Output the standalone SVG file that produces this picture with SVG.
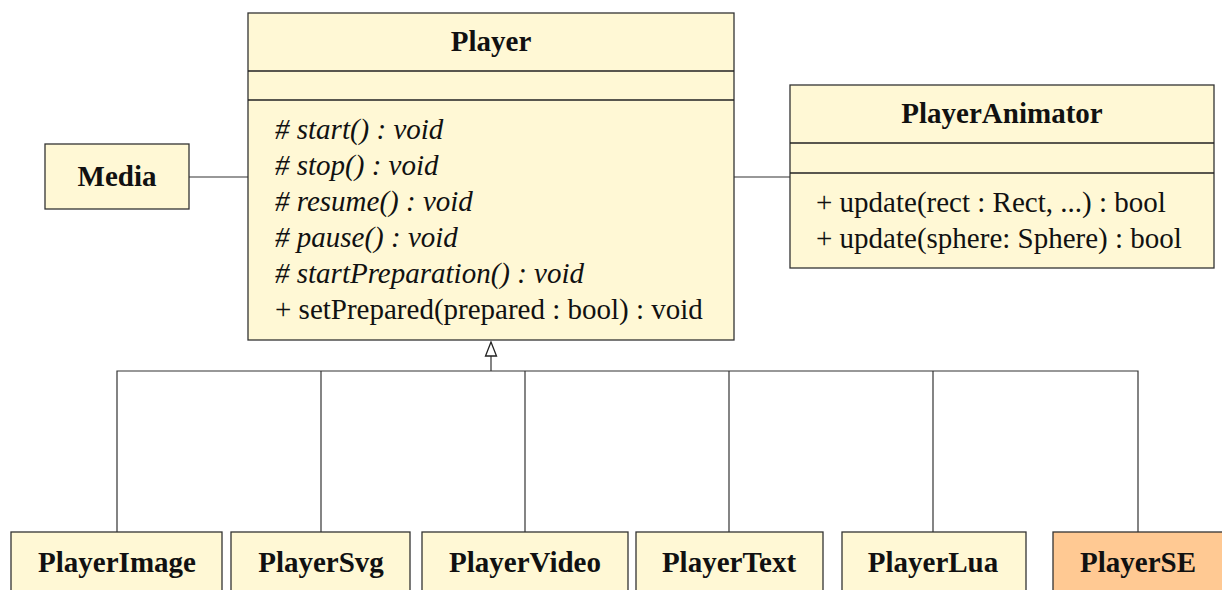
<svg xmlns="http://www.w3.org/2000/svg" width="1222" height="590" viewBox="0 0 1222 590">
<style>
.box{fill:#fff8d5;stroke:#333;stroke-width:1.3}
.se{fill:#ffc993;stroke:#333;stroke-width:1.3}
.div{stroke:#222;stroke-width:1.3}
.t{font-family:"Liberation Serif","Times New Roman",serif;font-size:29px;font-weight:bold;fill:#111;text-anchor:middle}
.m{font-family:"Liberation Serif","Times New Roman",serif;font-size:29px;fill:#111}
.i{font-style:italic}
.c{fill:none;stroke:#333;stroke-width:1.2}
</style>
<g id="connectors">
<line class="c" x1="189" y1="177" x2="248" y2="177"/>
<line class="c" x1="734" y1="177" x2="790" y2="177"/>
<polyline class="c" points="117,532 117,371 1138,371 1138,532"/>
<line class="c" x1="321" y1="371" x2="321" y2="532"/>
<line class="c" x1="525" y1="371" x2="525" y2="532"/>
<line class="c" x1="729" y1="371" x2="729" y2="532"/>
<line class="c" x1="933" y1="371" x2="933" y2="532"/>
<line class="c" x1="491" y1="371" x2="491" y2="356"/>
<polygon points="491,342 485.5,356 496.5,356" fill="#fff" stroke="#222" stroke-width="1.3"/>
</g>
<g id="Player">
<rect class="box" x="248" y="13" width="486" height="327"/>
<line class="div" x1="248" y1="71" x2="734" y2="71"/>
<line class="div" x1="248" y1="100" x2="734" y2="100"/>
<text class="t" x="491" y="51">Player</text>
<text class="m i" x="275" y="139"># start() : void</text>
<text class="m i" x="275" y="175"># stop() : void</text>
<text class="m i" x="275" y="211"># resume() : void</text>
<text class="m i" x="275" y="247"># pause() : void</text>
<text class="m i" x="275" y="283"># startPreparation() : void</text>
<text class="m" x="275" y="319">+ setPrepared(prepared : bool) : void</text>
</g>
<g id="Media">
<rect class="box" x="45" y="144" width="144" height="65"/>
<text class="t" x="117" y="186">Media</text>
</g>
<g id="PlayerAnimator">
<rect class="box" x="790" y="85" width="424" height="183"/>
<line class="div" x1="790" y1="143" x2="1214" y2="143"/>
<line class="div" x1="790" y1="173" x2="1214" y2="173"/>
<text class="t" x="1002" y="123">PlayerAnimator</text>
<text class="m" x="816" y="212">+ update(rect : Rect, ...) : bool</text>
<text class="m" x="816" y="248">+ update(sphere: Sphere) : bool</text>
</g>
<g id="PlayerImage">
<rect class="box" x="11" y="532" width="211" height="70"/>
<text class="t" x="117" y="572">PlayerImage</text>
</g>
<g id="PlayerSvg">
<rect class="box" x="231" y="532" width="179" height="70"/>
<text class="t" x="321" y="572">PlayerSvg</text>
</g>
<g id="PlayerVideo">
<rect class="box" x="422" y="532" width="206" height="70"/>
<text class="t" x="525" y="572">PlayerVideo</text>
</g>
<g id="PlayerText">
<rect class="box" x="636" y="532" width="187" height="70"/>
<text class="t" x="729" y="572">PlayerText</text>
</g>
<g id="PlayerLua">
<rect class="box" x="842" y="532" width="184" height="70"/>
<text class="t" x="933" y="572">PlayerLua</text>
</g>
<g id="PlayerSE">
<rect class="se" x="1053" y="532" width="175" height="70"/>
<text class="t" x="1138" y="572">PlayerSE</text>
</g>
</svg>
